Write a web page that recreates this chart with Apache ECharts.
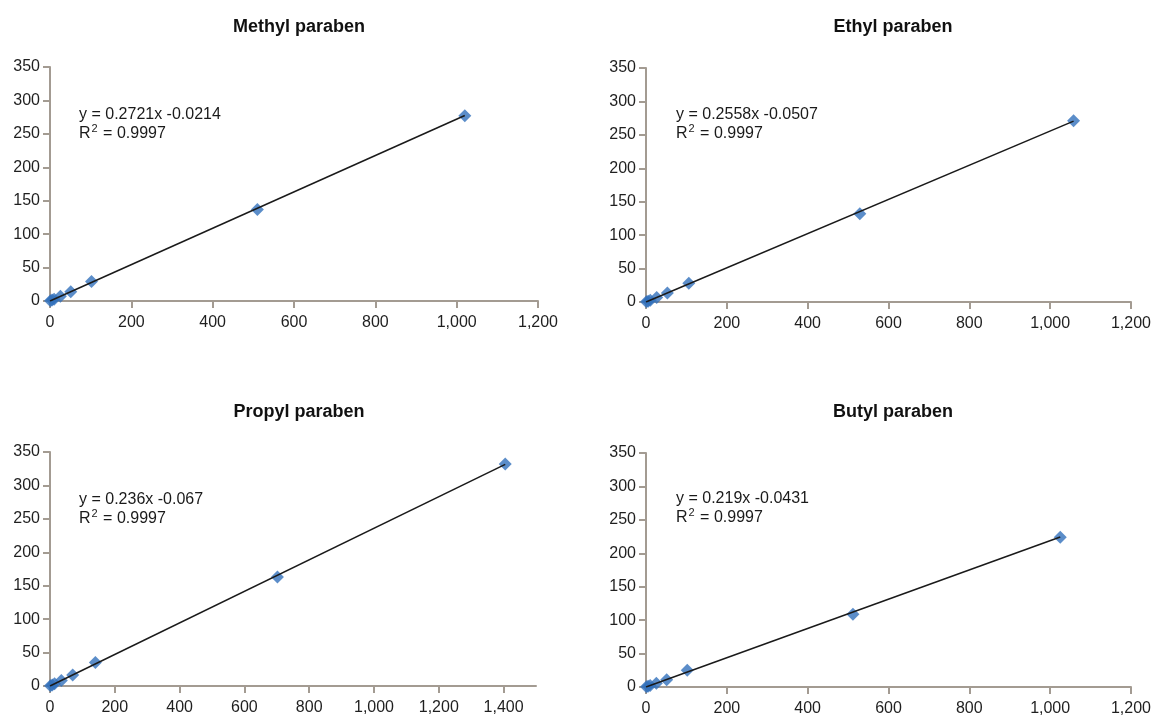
<!DOCTYPE html>
<html>
<head>
<meta charset="utf-8">
<script src="https://cdn.jsdelivr.net/npm/echarts@6/dist/echarts.min.js"></script>
<style>
html,body{margin:0;padding:0;background:#fff;}
#chart{width:1154px;height:717px;}
</style>
</head>
<body>
<div id="chart"></div>
<script>
// ---- Data ----
const titles = ['Methyl paraben', 'Ethyl paraben', 'Propyl paraben', 'Butyl paraben'];
const equations = ['y = 0.2721x -0.0214', 'y = 0.2558x -0.0507', 'y = 0.236x -0.067', 'y = 0.219x -0.0431'];
const rSquared = ['0.9997', '0.9997', '0.9997', '0.9997'];

const methylX = [1.02, 5.1, 10.2, 25.5, 51, 102, 510, 1020];
const methylY = [0.3, 1.4, 2.8, 7, 14, 29, 137, 277];
const ethylX = [1.06, 5.3, 10.6, 26.4, 52.9, 106, 529, 1058];
const ethylY = [0.3, 1.3, 2.7, 6.8, 13.5, 28, 132, 271];
const propylX = [1.4, 7, 14, 35, 70, 140, 702, 1405];
const propylY = [0.3, 1.6, 3.3, 8.3, 16.5, 35, 163, 332];
const butylX = [1.02, 5.1, 10.2, 25.6, 51.2, 102, 512, 1025];
const butylY = [0.2, 1.1, 2.2, 5.6, 11, 25, 109, 224];

// trend line end points
const methylTrend = [[0, -0.0214], [1020, 277.5]];
const ethylTrend = [[0, -0.0507], [1058, 270.6]];
const propylTrend = [[0, -0.067], [1405, 331.5]];
const butylTrend = [[0, -0.0431], [1025, 224.4]];

const yTicks = [0, 50, 100, 150, 200, 250, 300, 350];
const xTicksA = [0, 200, 400, 600, 800, 1000, 1200];
const xTicksB = [0, 200, 400, 600, 800, 1000, 1200, 1400];
const xMax = [1200, 1200, 1500, 1200];

const xs = [methylX, ethylX, propylX, butylX];
const ys = [methylY, ethylY, propylY, butylY];
const trends = [methylTrend, ethylTrend, propylTrend, butylTrend];
const xTickSets = [xTicksA, xTicksA, xTicksB, xTicksA];

// ---- Layout ----
const grids = [
  {left: 50, top: 67, width: 488, height: 234},
  {left: 646, top: 68, width: 485, height: 234},
  {left: 50, top: 452, width: 486, height: 234},
  {left: 646, top: 453, width: 485, height: 234}
];
const titlePos = [[294, 13], [888, 13], [294, 398], [888, 398]];
const eqPos = [[79, 107], [676, 107], [79, 492], [676, 491]];

const FONT = '"Liberation Sans", Arial, sans-serif';
const axisColor = '#a39b92';
const labelColor = '#1f1f1f';

const option = {
  backgroundColor: '#fff',
  animation: false,
  textStyle: {fontFamily: FONT},
  title: titles.map((t, i) => ({
    text: t,
    left: titlePos[i][0],
    top: titlePos[i][1],
    textAlign: 'center',
    textStyle: {fontFamily: FONT, fontSize: 18, fontWeight: 'bold', color: '#111'}
  })),
  grid: grids.map(g => Object.assign({containLabel: false}, g)),
  xAxis: grids.map((g, i) => ({
    type: 'value',
    gridIndex: i,
    min: 0,
    max: xMax[i],
    interval: 200,
    splitLine: {show: false},
    axisLine: {show: true, onZero: false, lineStyle: {color: axisColor, width: 2}},
    axisTick: {show: true, length: 7, customValues: xTickSets[i], lineStyle: {color: axisColor, width: 2}},
    axisLabel: {
      customValues: xTickSets[i],
      fontSize: 16, color: labelColor, fontFamily: FONT, margin: 14,
      formatter: v => Number(v).toLocaleString('en-US')
    }
  })),
  yAxis: grids.map((g, i) => ({
    type: 'value',
    gridIndex: i,
    min: 0,
    max: 350,
    interval: 50,
    splitLine: {show: false},
    axisLine: {show: true, onZero: false, lineStyle: {color: axisColor, width: 2}},
    axisTick: {show: true, length: 7, lineStyle: {color: axisColor, width: 2}},
    axisLabel: {fontSize: 16, color: labelColor, fontFamily: FONT, margin: 10}
  })),
  series: []
};

for (let i = 0; i < 4; i++) {
  option.series.push({
    type: 'line',
    xAxisIndex: i, yAxisIndex: i,
    data: trends[i],
    symbol: 'none',
    lineStyle: {color: '#1a1a1a', width: 1.5},
    z: 3
  });
  option.series.push({
    type: 'scatter',
    xAxisIndex: i, yAxisIndex: i,
    data: xs[i].map((x, k) => [x, ys[i][k]]),
    symbol: 'diamond',
    symbolSize: 13,
    itemStyle: {color: '#3271bb'},
    z: 2
  });
}

option.graphic = equations.map((eq, i) => ({
  type: 'text',
  left: eqPos[i][0],
  top: eqPos[i][1],
  style: {
    text: '{a|' + eq + '}\n{a|R}{s|2}{a| = ' + rSquared[i] + '}',
    rich: {
      a: {fontSize: 16, fontFamily: FONT, fill: '#1a1a1a', color: '#1a1a1a', lineHeight: 19, verticalAlign: 'bottom'},
      s: {fontSize: 11, fontFamily: FONT, fill: '#1a1a1a', color: '#1a1a1a', lineHeight: 19, verticalAlign: 'top', padding: [0, 1, 0, 1]}
    }
  }
}));

const chart = echarts.init(document.getElementById('chart'), null, {renderer: 'canvas'});
chart.setOption(option);
</script>
</body>
</html>
